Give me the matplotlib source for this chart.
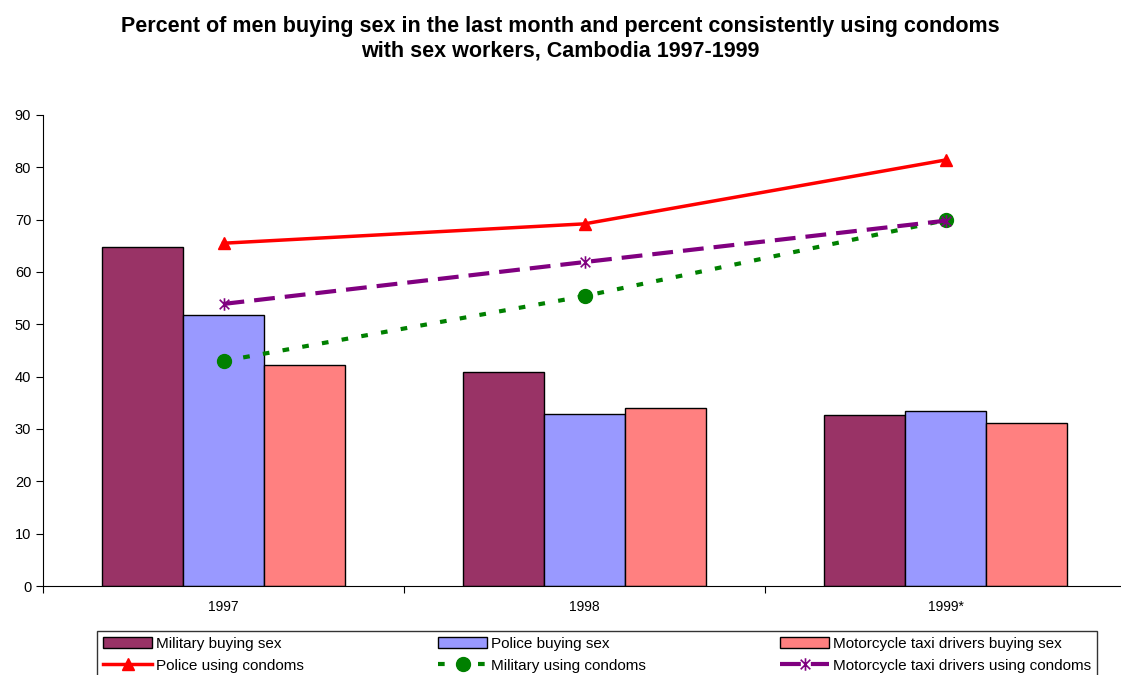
import matplotlib.pyplot as plt
import numpy as np
from matplotlib.path import Path

plt.rcParams['font.family'] = ['Liberation Sans', 'DejaVu Sans']

years = ['1997', '1998', '1999*']
military_sex = [64.8, 40.9, 32.7]
police_sex = [51.8, 32.9, 33.4]
moto_sex = [42.2, 34.0, 31.1]
police_condom = [65.5, 69.2, 81.4]
military_condom = [43.0, 55.4, 69.9]
moto_condom = [53.9, 61.9, 69.8]

fig = plt.figure(figsize=(11.21, 6.75), dpi=100)
ax = fig.add_axes([43/1121, 89/675, 1083/1121, 471/675])

x = np.arange(len(years))
w = 0.224
b1 = ax.bar(x - w, military_sex, w, color='#993366', edgecolor='black', lw=1)
b2 = ax.bar(x, police_sex, w, color='#9999FF', edgecolor='black', lw=1)
b3 = ax.bar(x + w, moto_sex, w, color='#FF8080', edgecolor='black', lw=1)

star = Path([(-1, -1), (1, 1), (-1, 1), (1, -1), (0, -1.3), (0, 1.3)],
            [Path.MOVETO, Path.LINETO, Path.MOVETO, Path.LINETO, Path.MOVETO, Path.LINETO])

l1, = ax.plot(x, police_condom, color='#FF0000', lw=2.5, marker='^', ms=9)
l2, = ax.plot(x, military_condom, color='#008000', lw=3, marker='o', ms=10,
              dashes=(1.6, 3.2))
l3, = ax.plot(x, moto_condom, color='#800080', lw=3, marker=star, ms=9,
              mew=1.2, dashes=(5, 2.4))

ax.set_xlim(-0.5, 2.5)
ax.set_ylim(0, 90)
ax.set_yticks(range(0, 91, 10))
ax.set_xticks([-0.5, 0.5, 1.5, 2.5])
ax.set_xticklabels([])
ax.set_xticks(x, minor=True)
ax.set_xticklabels(years, minor=True)
ax.tick_params(axis='x', which='minor', length=0, pad=10, labelsize=10)
ax.tick_params(axis='x', which='major', length=5, direction='out')
ax.tick_params(axis='y', length=5, direction='out', labelsize=10.5)
ax.spines['top'].set_visible(False)
ax.spines['right'].set_visible(False)

fig.text(0.5, 1 - 16/675, 'Percent of men buying sex in the last month and percent consistently using condoms\nwith sex workers, Cambodia 1997-1999',
         ha='center', va='top', fontsize=15.5, fontweight='bold', linespacing=1.25)

handles = [b1, l1, b2, l2, b3, l3]
labels = ['Military buying sex', 'Police using condoms', 'Police buying sex',
          'Military using condoms', 'Motorcycle taxi drivers buying sex',
          'Motorcycle taxi drivers using condoms']
leg = fig.legend(handles, labels, ncol=3, loc='upper left',
                 bbox_to_anchor=(97/1121, 1 - 641/675, 1000/1121, 10/675), mode='expand',
                 fontsize=11, frameon=True, fancybox=False, edgecolor='black',
                 handlelength=3.2, handletextpad=0.25, borderpad=0.4,
                 labelspacing=0.5, borderaxespad=0)
leg.get_frame().set_linewidth(1)

fig.savefig('out.png', dpi=100)
